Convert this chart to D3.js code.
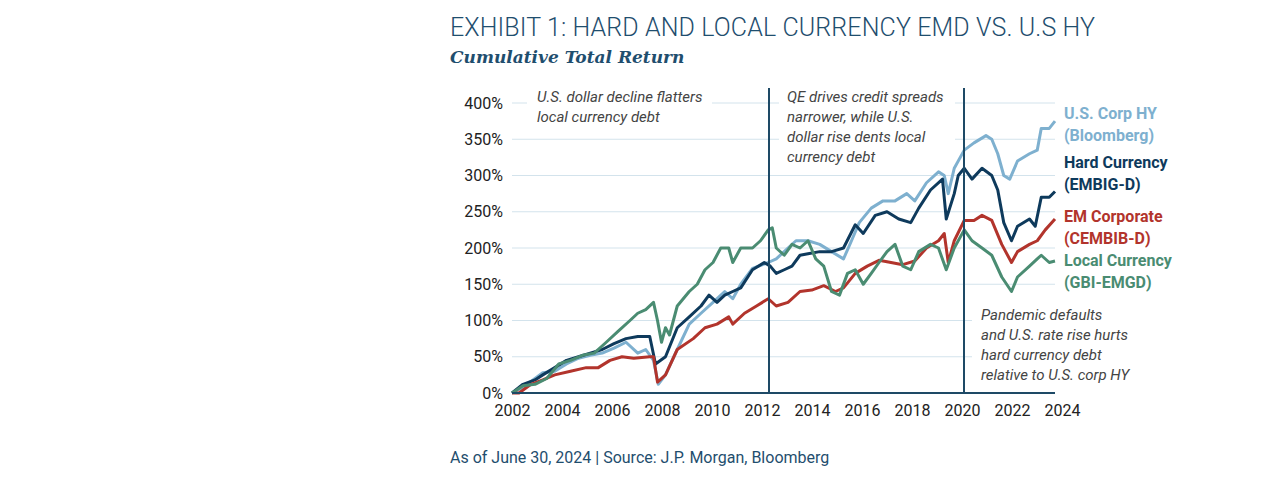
<!DOCTYPE html>
<html><head><meta charset="utf-8">
<script src="https://cdn.jsdelivr.net/npm/d3@7"></script>
<style>
body{margin:0;background:#fff;font-family:Roboto,"Noto Sans",sans-serif;}
svg text{font-family:Roboto,"Noto Sans",sans-serif;}
</style></head>
<body><svg id="chart" width="1275" height="481"></svg>
<script>
// [years since 2002, cumulative return %]
const hyData = [[0,0],[0.44,8],[0.92,20],[1.23,28],[1.71,30],[2.18,40],[2.66,48],[3.13,52],[3.61,55],[4.08,62],[4.56,70],[5.03,55],[5.35,60],[5.66,45],[5.85,12],[6.14,25],[6.61,60],[7.09,95],[7.56,110],[8.04,125],[8.51,140],[8.83,130],[9.15,150],[9.62,172],[10.25,180],[10.57,185],[11.04,200],[11.36,210],[11.84,210],[12.31,205],[12.78,195],[13.26,185],[13.58,210],[13.89,235],[14.37,255],[14.84,265],[15.32,265],[15.79,275],[16.11,265],[16.58,290],[17.06,305],[17.29,300],[17.45,275],[17.69,310],[18.09,335],[18.48,345],[18.96,355],[19.19,350],[19.43,330],[19.67,300],[19.91,295],[20.22,320],[20.7,330],[21.01,335],[21.17,365],[21.49,365],[21.72,375]];
const hardData = [[0,0],[0.44,12],[0.92,18],[1.23,25],[1.71,35],[2.18,45],[2.66,50],[3.13,55],[3.61,60],[4.08,68],[4.56,75],[5.03,78],[5.51,78],[5.74,40],[6.14,50],[6.61,90],[7.09,105],[7.56,120],[7.88,135],[8.2,125],[8.51,135],[8.83,140],[9.15,145],[9.62,170],[10.09,180],[10.33,175],[10.57,165],[10.89,170],[11.2,175],[11.52,190],[11.84,192],[12.31,195],[12.78,195],[13.26,200],[13.73,232],[14.05,220],[14.53,245],[15.0,250],[15.47,240],[15.95,235],[16.27,255],[16.74,280],[17.22,295],[17.37,240],[17.69,275],[17.85,300],[18.09,310],[18.4,295],[18.8,310],[19.19,300],[19.43,280],[19.67,235],[19.98,210],[20.22,230],[20.7,240],[20.93,230],[21.17,270],[21.49,270],[21.72,278]];
const corpData = [[0,0],[0.28,0],[0.76,12],[1.23,18],[1.71,25],[2.34,30],[2.97,35],[3.45,35],[3.92,45],[4.4,50],[4.87,48],[5.51,50],[5.66,50],[5.82,15],[6.14,25],[6.61,60],[7.25,75],[7.72,90],[8.2,95],[8.67,105],[8.83,95],[9.3,110],[9.78,120],[10.25,130],[10.57,120],[11.04,125],[11.52,140],[11.99,142],[12.47,148],[12.94,140],[13.26,145],[13.73,165],[14.21,175],[14.68,183],[15.16,180],[15.63,177],[16.11,182],[16.58,200],[17.06,210],[17.29,220],[17.45,180],[17.69,210],[18.09,238],[18.48,238],[18.8,245],[19.19,238],[19.59,205],[19.98,180],[20.22,195],[20.7,205],[21.01,210],[21.33,225],[21.72,240]];
const localData = [[0,0],[0.44,10],[0.92,12],[1.39,20],[1.87,40],[2.34,45],[2.82,52],[3.29,55],[3.77,70],[4.24,85],[4.72,100],[5.03,110],[5.35,115],[5.66,125],[5.82,100],[5.98,70],[6.14,90],[6.3,80],[6.61,120],[7.09,140],[7.41,150],[7.72,170],[8.04,180],[8.35,200],[8.67,200],[8.83,180],[9.15,200],[9.62,200],[9.94,210],[10.25,225],[10.41,228],[10.57,200],[10.89,190],[11.2,205],[11.52,200],[11.84,210],[12.15,185],[12.47,175],[12.78,140],[13.1,135],[13.42,165],[13.73,170],[14.05,150],[14.37,165],[14.68,180],[15.0,195],[15.32,205],[15.63,175],[15.95,170],[16.27,195],[16.74,205],[17.06,200],[17.37,170],[17.69,200],[18.09,225],[18.4,210],[18.8,200],[19.19,190],[19.59,160],[19.98,140],[20.22,160],[20.7,175],[21.01,185],[21.17,190],[21.49,180],[21.72,182]];

const yTicks = [0, 50, 100, 150, 200, 250, 300, 350, 400];
const xTicks = [2002, 2004, 2006, 2008, 2010, 2012, 2014, 2016, 2018, 2020, 2022, 2024];
const dividers = [2012.28, 2020.08];

const seriesNames = ['hy', 'hard', 'corp', 'local'];
const seriesData = [hyData, hardData, corpData, localData];
const seriesColors = ['#7eb0cf', '#0e3a5c', '#b2342c', '#4a8c72'];
const seriesLabels = [['U.S. Corp HY', '(Bloomberg)'], ['Hard Currency', '(EMBIG-D)'], ['EM Corporate', '(CEMBIB-D)'], ['Local Currency', '(GBI-EMGD)']];
const labelY = [119, 168, 222, 266];

const notes = [
  { x: 537, y: 102, lines: ['U.S. dollar decline flatters', 'local currency debt'] },
  { x: 787, y: 102, lines: ['QE drives credit spreads', 'narrower, while U.S.', 'dollar rise dents local', 'currency debt'] },
  { x: 981, y: 320, lines: ['Pandemic defaults', 'and U.S. rate rise hurts', 'hard currency debt', 'relative to U.S. corp HY'] },
];

const svg = d3.select('#chart');
const x = d3.scaleLinear().domain([2002, 2024]).range([512, 1062]);
const y = d3.scaleLinear().domain([0, 400]).range([393, 103]);

svg.append('text').attr('x', 450).attr('y', 36).attr('fill', '#1f4e6e')
  .style('font-size', '25px').style('font-weight', 300).attr('textLength', 645)
  .text('EXHIBIT 1: HARD AND LOCAL CURRENCY EMD VS. U.S HY');
svg.append('text').attr('x', 450).attr('y', 63).attr('fill', '#1f4e6e')
  .style('font-family', '"DejaVu Serif",serif').style('font-style', 'italic').style('font-weight', 'bold')
  .style('font-size', '17px').text('Cumulative Total Return');

// grid
svg.append('g').selectAll('line').data(yTicks.slice(1)).join('line')
  .attr('x1', 512).attr('x2', 1055).attr('y1', d => y(d)).attr('y2', d => y(d))
  .attr('stroke', '#d3e3ec').attr('stroke-width', 1);

// white boxes behind annotations
const boxes = [[527, 88, 185, 40], [779, 88, 176, 80], [972, 300, 160, 90]];
svg.append('g').selectAll('rect').data(boxes).join('rect')
  .attr('x', d => d[0]).attr('y', d => d[1]).attr('width', d => d[2]).attr('height', d => d[3]).attr('fill', '#fff');

svg.append('g').attr('transform', 'translate(505,0)')
  .call(d3.axisLeft(y).tickValues(yTicks).tickFormat(d => d + '%').tickSize(0).tickPadding(2))
  .call(g => g.select('.domain').remove())
  .selectAll('text').style('font-size', '16px').attr('fill', '#222');
svg.append('g').attr('transform', 'translate(0,403)')
  .call(d3.axisBottom(x).tickValues(xTicks).tickFormat(d3.format('d')).tickSize(0).tickPadding(2))
  .call(g => g.select('.domain').remove())
  .selectAll('text').style('font-size', '16px').attr('fill', '#222');

const line = d3.line().x(d => x(2002 + d[0])).y(d => y(d[1])).curve(d3.curveLinear);
svg.append('g').selectAll('path').data(seriesData).join('path')
  .attr('class', (d, i) => seriesNames[i])
  .attr('d', line).attr('fill', 'none')
  .attr('stroke', (d, i) => seriesColors[i]).attr('stroke-width', 3).attr('stroke-linejoin', 'round');

svg.append('line').attr('x1', 512).attr('x2', 1055).attr('y1', y(0)).attr('y2', y(0))
  .attr('stroke', '#1e4a66').attr('stroke-width', 2);
svg.append('g').selectAll('line').data(dividers).join('line')
  .attr('x1', d => x(d)).attr('x2', d => x(d)).attr('y1', 88).attr('y2', y(0))
  .attr('stroke', '#1e4a66').attr('stroke-width', 2);

notes.forEach(n => {
  const t = svg.append('text').attr('fill', '#444').style('font-style', 'italic').style('font-size', '15px');
  n.lines.forEach((l, i) => t.append('tspan').attr('x', n.x).attr('y', n.y + i * 20).text(l));
});

seriesLabels.forEach((ls, i) => {
  const t = svg.append('text').attr('fill', seriesColors[i]).style('font-weight', 'bold').style('font-size', '16px');
  ls.forEach((l, j) => t.append('tspan').attr('x', 1064).attr('y', labelY[i] + j * 22).text(l));
});

svg.append('text').attr('x', 450).attr('y', 463).attr('fill', '#1f4e6e').style('font-size', '16px')
  .text('As of June 30, 2024 | Source: J.P. Morgan, Bloomberg');
</script></body></html>
